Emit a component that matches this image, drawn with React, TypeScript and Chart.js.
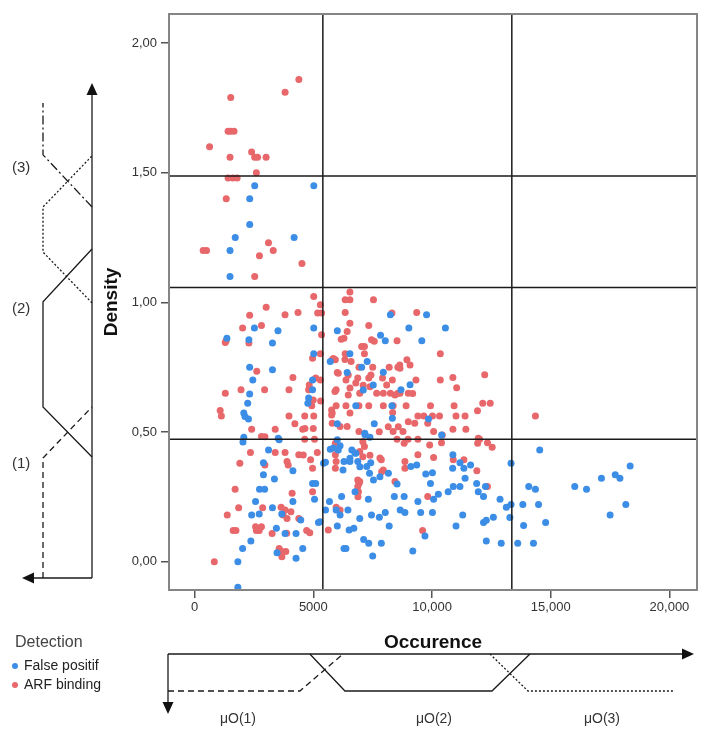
import { useEffect, useRef } from 'react';
import { Chart, registerables } from 'chart.js';
Chart.register(...registerables);

// ---------- data ----------
const fpX = [
  2530, 5020, 2320, 2320, 1710, 4190, 1490, 1490,
  8245, 9768,
  1358, 2517, 3278, 3510, 2285, 5017, 6010, 7831, 8030, 9023, 9569, 10563,
  3278, 2318, 2450, 5017, 5712, 6540, 6424, 7036, 7268, 7947, 9073, 8692, 4967,
  2318, 2235, 2070, 2119, 2268, 4801, 4768, 4967, 6788, 6010, 8311, 8328, 9851, 7566, 7168,
  2035, 2070,
  3113, 3560, 2897, 2897, 3361, 4139, 4967, 5100, 5430, 5510, 5712, 5844, 6010, 6126, 6291, 6540, 6622, 6788, 6871, 7251, 7367, 7417, 7533, 8162, 8526, 9107, 9354, 9735, 10017, 9934, 10878, 11176, 11341, 11623, 11391, 13328, 14536,
  1821, 1821, 2732, 2947, 3278, 2401, 2566, 2020, 2368, 3444, 3808, 4271, 4139, 4470, 4553, 4271, 5050, 5215, 5513, 5679, 5960, 6126, 6010, 6291, 6374, 6457, 6507, 6705, 6755, 6954, 7119, 7317, 7334, 7500, 7450, 7781, 7864, 8030, 8195, 8411, 8659, 8825, 8857, 9189, 9404, 9520, 10017, 10066, 10265, 10679, 10894, 11176, 11291, 11010, 12168, 12251, 12168, 12285, 12285, 12583, 12914, 12864, 13129, 13328, 13278, 13609, 13824, 13857, 14073, 14354, 14486, 14271, 14784, 16010, 16506, 17135, 17500, 17716, 17914, 18162, 18344, 2720, 3670, 3470,
  6250, 6540, 6750, 7805, 6190, 6960, 6050, 5280,
  7103, 7524, 7175, 7384, 10404, 3522, 10867, 11878, 11946, 9701,
];
const fpY = [
  1.45, 1.45, 1.40, 1.30, 1.25, 1.25, 1.20, 1.10,
  0.952, 0.952,
  0.862, 0.901, 0.843, 0.891, 0.856, 0.901, 0.891, 0.873, 0.852, 0.901, 0.852, 0.901,
  0.740, 0.750, 0.701, 0.802, 0.772, 0.802, 0.730, 0.750, 0.772, 0.731, 0.682, 0.663, 0.701,
  0.647, 0.611, 0.573, 0.560, 0.550, 0.631, 0.611, 0.663, 0.601, 0.532, 0.601, 0.553, 0.550, 0.532, 0.495,
  0.462, 0.480,
  0.431, 0.470, 0.382, 0.335, 0.319, 0.351, 0.302, 0.302, 0.380, 0.383, 0.434, 0.438, 0.470, 0.447, 0.386, 0.386, 0.431, 0.418, 0.386, 0.367, 0.341, 0.382, 0.315, 0.341, 0.300, 0.367, 0.373, 0.338, 0.343, 0.302, 0.412, 0.382, 0.360, 0.373, 0.322, 0.380, 0.431,
  0.0, -0.099, 0.279, 0.279, 0.208, 0.180, 0.232, 0.051, 0.080, 0.129, 0.109, 0.109, 0.232, 0.161, 0.051, 0.013, 0.241, 0.151, 0.199, 0.232, 0.199, 0.180, 0.138, 0.051, 0.051, 0.199, 0.122, 0.129, 0.270, 0.167, 0.086, 0.241, 0.071, 0.022, 0.180, 0.171, 0.071, 0.190, 0.138, 0.251, 0.199, 0.251, 0.190, 0.041, 0.232, 0.190, 0.190, 0.241, 0.260, 0.270, 0.290, 0.290, 0.180, 0.138, 0.251, 0.290, 0.151, 0.160, 0.080, 0.171, 0.071, 0.241, 0.210, 0.221, 0.170, 0.071, 0.221, 0.140, 0.290, 0.279, 0.221, 0.071, 0.151, 0.290, 0.279, 0.322, 0.180, 0.335, 0.322, 0.221, 0.369, 0.184, 0.184, 0.034,
  0.354, 0.399, 0.419, 0.328, 0.251, 0.366, 0.431, 0.154,
  0.662, 0.681, 0.490, 0.480, 0.489, 0.476, 0.360, 0.302, 0.270, 0.099,
];

const arfX = [
  4390, 3810, 1520, 1410, 1520, 1660, 630, 1490, 2400, 2530, 2650, 3010, 2600, 1410, 1610, 1790, 1330, 360, 500, 3110, 3310, 2730, 4520, 2530,
  5017, 5298, 5182, 5348, 6540, 6341, 6540, 7533, 3013, 2318, 3808, 4354, 6341, 8311, 9354,
  2815, 2020, 1325, 1290, 2285, 5348, 6291, 6175, 6424, 6540, 7334, 7450, 7566, 8526,
  4967, 5298, 5927, 5794, 6341, 7036, 7152, 7152, 6589, 6921, 7500, 8195, 8559, 8640, 8940, 9073, 2616, 4139, 5099, 5298, 6010, 6374, 6871, 7334, 7914, 8328, 9321, 10348, 10348, 10878, 12218,
  1291, 1954, 2947, 3974, 1076, 1126, 3974, 4636, 5017, 4934, 4801, 5794, 5960, 6374, 6921, 7334, 7947, 8361, 8907, 9934, 10928, 11914, 12135, 12450, 6954, 7947, 8245, 8559, 5960, 6788, 9404, 9652, 10017, 10315, 11010, 11391, 14354, 4222, 3394, 2401, 4553, 5794, 6126, 6424, 6921, 8361, 8775, 9271, 9818, 10066, 10878, 11424, 10431,
  2815, 2351, 1904, 3394, 3808, 4387, 3891, 3940, 4636, 5050, 5166, 4884, 4967, 5927, 5927, 5960, 5927, 7086, 7152, 7086, 6954, 7864, 8526, 8990, 8825, 9404, 9900, 10398, 8857, 8857, 9404, 10066, 10894, 11341, 11921, 12003, 12334, 12533, 11887, 4106, 4967, 6871, 6921, 7947,
  828, 1705, 1854, 1374, 1623, 1740, 2864, 2566, 2650, 2815, 2600, 2720, 3262, 3642, 3808, 3725, 4056, 3891, 3560, 3675, 3675, 3840, 4387, 4718, 4851, 5629, 5960, 6126, 9818, 9602, 12334, 6871, 6954, 6900, 6880,
  6331, 6470, 4827, 5910, 6542, 7100, 7384, 8088, 8648, 8438, 6470, 7666, 8998, 4996, 5307, 5770, 5770, 4646, 4996, 6542, 8340, 8155, 8577, 8998, 7776, 6049, 7426, 5840, 8648,
  11036, 9183, 11946, 2961, 4575, 7805, 7877, 7384, 8438, 2961, 3875,
];
const arfY = [
  1.86, 1.81, 1.79, 1.66, 1.66, 1.66, 1.60, 1.56, 1.58, 1.56, 1.56, 1.56, 1.50, 1.48, 1.48, 1.48, 1.40, 1.20, 1.20, 1.23, 1.20, 1.18, 1.15, 1.10,
  1.023, 0.991, 0.959, 0.959, 1.040, 1.010, 1.010, 1.010, 0.981, 0.950, 0.952, 0.961, 0.961, 0.959, 0.961,
  0.911, 0.901, 0.852, 0.845, 0.843, 0.875, 0.862, 0.858, 0.888, 0.920, 0.911, 0.856, 0.850, 0.852,
  0.785, 0.802, 0.779, 0.779, 0.802, 0.830, 0.830, 0.802, 0.772, 0.750, 0.750, 0.750, 0.750, 0.759, 0.779, 0.759, 0.734, 0.710, 0.708, 0.701, 0.730, 0.701, 0.708, 0.708, 0.708, 0.701, 0.701, 0.802, 0.701, 0.710, 0.721,
  0.650, 0.663, 0.663, 0.663, 0.583, 0.562, 0.562, 0.562, 0.562, 0.601, 0.663, 0.573, 0.601, 0.601, 0.601, 0.601, 0.601, 0.601, 0.601, 0.601, 0.601, 0.582, 0.611, 0.611, 0.650, 0.650, 0.650, 0.650, 0.663, 0.689, 0.562, 0.562, 0.562, 0.562, 0.562, 0.562, 0.562, 0.532, 0.511, 0.511, 0.511, 0.534, 0.521, 0.521, 0.502, 0.502, 0.502, 0.534, 0.534, 0.502, 0.511, 0.511, 0.489,
  0.483, 0.421, 0.380, 0.421, 0.421, 0.412, 0.386, 0.373, 0.472, 0.472, 0.421, 0.393, 0.360, 0.457, 0.412, 0.386, 0.360, 0.463, 0.444, 0.405, 0.425, 0.393, 0.472, 0.472, 0.457, 0.472, 0.450, 0.459, 0.386, 0.360, 0.412, 0.402, 0.393, 0.393, 0.457, 0.472, 0.459, 0.441, 0.351, 0.264, 0.270, 0.315, 0.302, 0.354,
  0.0, 0.279, 0.208, 0.180, 0.120, 0.120, 0.208, 0.135, 0.129, 0.135, 0.120, 0.120, 0.109, 0.210, 0.199, 0.180, 0.193, 0.167, 0.051, 0.039, 0.019, 0.039, 0.167, 0.120, 0.112, 0.122, 0.210, 0.199, 0.251, 0.120, 0.290, 0.290, 0.309, 0.270, 0.250,
  0.780, 0.720, 0.681, 0.656, 0.670, 0.680, 0.675, 0.681, 0.650, 0.643, 0.643, 0.650, 0.650, 0.624, 0.620, 0.585, 0.566, 0.514, 0.514, 0.573, 0.575, 0.520, 0.520, 0.540, 0.501, 0.727, 0.720, 0.784, 0.746,
  0.671, 0.649, 0.476, 0.482, 0.411, 0.400, 0.347, 0.410, 0.309, 0.373, 0.110,
];

const xTicks = [0, 5000, 10000, 15000, 20000];
const yTicks = [0, 0.5, 1, 1.5, 2];
const occurrenceCuts = [5400, 13360];
const densityCuts = [0.472, 1.057, 1.4875];

// membership functions: [value, membership]
const densityMF1 = [[-0.063, 1], [0.4, 1], [0.597, 0]];
const densityMF2 = [[0.404, 0], [0.597, 1], [1.002, 1], [1.206, 0]];
const densityMF3 = [[0.998, 0], [1.194, 1], [1.368, 1], [1.565, 0]];
const densityMF4 = [[1.368, 0], [1.569, 1], [1.769, 1]];
const occMF1 = [[-1125, 1], [4435, 1], [6247, 0]];
const occMF2 = [[4853, 0], [6331, 1], [12523, 1], [14124, 0]];
const occMF3 = [[12439, 0], [14040, 1], [20232, 1]];

const BLUE = '#3b8de6';
const RED = '#e8676a';
const FONT = '"Liberation Sans", Arial, sans-serif';

function fmtX(v: number) {
  return v < 10000 ? String(v) : v.toLocaleString('en-US');
}
function fmtY(v: number) {
  return v.toFixed(2).replace('.', ',');
}

function poly(ctx: CanvasRenderingContext2D, pts: number[][], dash: number[]) {
  ctx.setLineDash(dash);
  ctx.beginPath();
  pts.forEach(([px, py], i) => (i ? ctx.lineTo(px, py) : ctx.moveTo(px, py)));
  ctx.stroke();
}
function arrow(ctx: CanvasRenderingContext2D, tx: number, ty: number, dx: number, dy: number, len = 12, half = 5) {
  const bx = tx - dx * len, by = ty - dy * len;
  const nx = -dy, ny = dx;
  ctx.beginPath();
  ctx.moveTo(tx, ty);
  ctx.lineTo(bx + nx * half, by + ny * half);
  ctx.lineTo(bx - nx * half, by - ny * half);
  ctx.closePath();
  ctx.fill();
}

const decor = {
  id: 'decor',
  afterDatasetsDraw(chart: any) {
    const { ctx, chartArea: a, scales } = chart;
    const x = scales.x, y = scales.y;
    ctx.save();
    ctx.strokeStyle = '#1a1a1a';
    ctx.lineWidth = 1.5;
    occurrenceCuts.forEach((v) => {
      const px = x.getPixelForValue(v);
      poly(ctx, [[px, a.top], [px, a.bottom]], []);
    });
    densityCuts.forEach((v) => {
      const py = y.getPixelForValue(v);
      poly(ctx, [[a.left, py], [a.right, py]], []);
    });
    ctx.strokeStyle = '#858585';
    ctx.lineWidth = 2;
    ctx.strokeRect(a.left, a.top, a.right - a.left, a.bottom - a.top);
    ctx.restore();
  },
  afterDraw(chart: any) {
    const { ctx, chartArea: a, scales } = chart;
    const x = scales.x, y = scales.y;
    ctx.save();
    ctx.strokeStyle = '#1a1a1a';
    ctx.fillStyle = '#111';
    ctx.lineWidth = 1.3;

    // ---- left (density) membership diagram ----
    const AX = 92, MU1X = 43, BOTY = 578;
    poly(ctx, [[AX, BOTY], [AX, 95]], []);
    arrow(ctx, AX, 83, 0, -1, 12, 5.5);
    poly(ctx, [[AX, BOTY], [34, BOTY]], []);
    arrow(ctx, 22, BOTY, -1, 0, 12, 5.5);
    const mapL = (pts: number[][]) => pts.map(([d, m]) => [AX - m * (AX - MU1X), y.getPixelForValue(d)]);
    poly(ctx, mapL(densityMF1), [6, 4]);
    poly(ctx, mapL(densityMF2), []);
    poly(ctx, mapL(densityMF3), [2, 2]);
    poly(ctx, mapL(densityMF4), [9, 3, 2, 3]);

    // ---- bottom (occurrence) membership diagram ----
    const BY = 654, MU1Y = 691, LX = a.left - 1;
    poly(ctx, [[LX, BY], [a.right - 14, BY]], []);
    arrow(ctx, a.right - 3, BY, 1, 0, 12, 5.5);
    poly(ctx, [[LX, BY], [LX, 702]], []);
    arrow(ctx, LX, 714, 0, 1, 12, 5.5);
    const mapB = (pts: number[][]) => pts.map(([v, m]) => [Math.max(LX, x.getPixelForValue(v)), BY + m * (MU1Y - BY)]);
    poly(ctx, mapB(occMF1), [6, 4]);
    poly(ctx, mapB(occMF2), []);
    poly(ctx, mapB(occMF3), [2, 2]);
    ctx.setLineDash([]);

    // ---- texts ----
    ctx.fillStyle = '#111';
    ctx.font = `bold 19px ${FONT}`;
    ctx.textAlign = 'center';
    ctx.textBaseline = 'alphabetic';
    ctx.fillText('Occurence', 433, 648);
    ctx.save();
    ctx.translate(117, 302);
    ctx.rotate(-Math.PI / 2);
    ctx.fillText('Density', 0, 0);
    ctx.restore();

    ctx.fillStyle = '#333';
    ctx.font = `14px ${FONT}`;
    ctx.textBaseline = 'middle';
    ctx.fillText('\u03bcO(1)', 238, 719);
    ctx.fillText('\u03bcO(2)', 434, 719);
    ctx.fillText('\u03bcO(3)', 602, 719);

    ctx.textAlign = 'left';
    ctx.font = `15px ${FONT}`;
    ctx.fillText('(3)', 12, 168);
    ctx.fillText('(2)', 12, 309);
    ctx.fillText('(1)', 12, 464);

    // legend
    ctx.fillStyle = '#444';
    ctx.font = `16px ${FONT}`;
    ctx.textBaseline = 'alphabetic';
    ctx.fillText('Detection', 15, 647);
    ctx.font = `14px ${FONT}`;
    ctx.textBaseline = 'middle';
    ctx.fillStyle = BLUE;
    ctx.beginPath(); ctx.arc(15, 666, 3, 0, Math.PI * 2); ctx.fill();
    ctx.fillStyle = RED;
    ctx.beginPath(); ctx.arc(15, 685, 3, 0, Math.PI * 2); ctx.fill();
    ctx.fillStyle = '#222';
    ctx.fillText('False positif', 24, 666);
    ctx.fillText('ARF binding', 24, 685);
    ctx.restore();
  },
};

export default function App() {
  const ref = useRef<HTMLCanvasElement>(null);
  useEffect(() => {
    const canvas = ref.current!;
    const chart = new Chart(canvas, {
      type: 'scatter',
      data: {
        datasets: [
          {
            label: 'False positif',
            data: fpX.map((v, i) => ({ x: v, y: fpY[i] })),
            backgroundColor: BLUE,
            borderColor: BLUE,
            borderWidth: 0,
            pointRadius: 3.5,
          },
          {
            label: 'ARF binding',
            data: arfX.map((v, i) => ({ x: v, y: arfY[i] })),
            backgroundColor: RED,
            borderColor: RED,
            borderWidth: 0,
            pointRadius: 3.5,
          },
        ],
      },
      options: {
        animation: false,
        responsive: false,
        events: [],
        layout: { padding: { top: 14, right: 20, left: 0, bottom: 0 } },
        plugins: { legend: { display: false }, tooltip: { enabled: false } },
        scales: {
          x: {
            type: 'linear',
            min: -1080,
            max: 21160,
            afterBuildTicks: (s: any) => { s.ticks = xTicks.map((v) => ({ value: v })); },
            afterFit: (s: any) => { s.height = 145; },
            ticks: { callback: (v: any) => fmtX(Number(v)), font: { family: FONT, size: 13 }, color: '#333', padding: 2, maxRotation: 0, autoSkip: false },
            grid: { drawOnChartArea: false, drawTicks: true, tickLength: 8, color: '#555', lineWidth: 1.5 },
            border: { display: false },
          },
          y: {
            type: 'linear',
            min: -0.1092,
            max: 2.1122,
            afterBuildTicks: (s: any) => { s.ticks = yTicks.map((v) => ({ value: v })); },
            afterFit: (s: any) => { s.width = 169; },
            ticks: { callback: (v: any) => fmtY(Number(v)), font: { family: FONT, size: 13 }, color: '#333', padding: 4, autoSkip: false },
            grid: { drawOnChartArea: false, drawTicks: true, tickLength: 8, color: '#555', lineWidth: 1.5 },
            border: { display: false },
          },
        },
      } as any,
      plugins: [decor as any],
    });
    return () => chart.destroy();
  }, []);
  return (
    <div style={{ position: 'absolute', left: 0, top: 0, width: 717, height: 735, background: '#fff' }}>
      <canvas ref={ref} width={717} height={735} style={{ display: 'block', width: 717, height: 735 }} />
    </div>
  );
}
